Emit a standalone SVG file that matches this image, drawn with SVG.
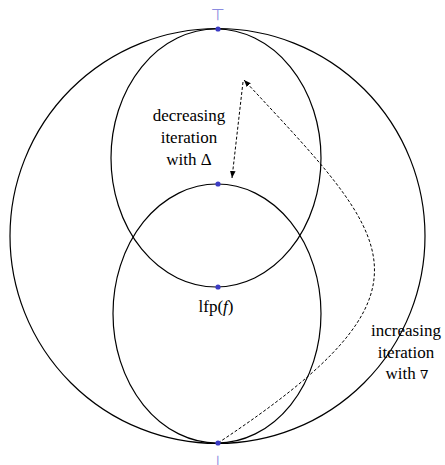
<svg xmlns="http://www.w3.org/2000/svg" width="445" height="465" viewBox="0 0 445 465">
<style>
.shape{fill:none;stroke:#000;stroke-width:1.2}
.dash{fill:none;stroke:#000;stroke-width:1;stroke-dasharray:3 2}
.dot{fill:#3b3bc4}
.lbl{font-family:"Liberation Serif","DejaVu Serif",serif;font-size:17px;fill:#000;text-anchor:middle}
.sym{font-family:"DejaVu Sans",sans-serif;font-size:16px;fill:#8a8ae0;text-anchor:middle}
</style>
<defs>
<marker id="ah" viewBox="0 0 10 10" refX="10" refY="5" markerWidth="7" markerHeight="7" orient="auto" markerUnits="userSpaceOnUse">
<path d="M0,1 L10,5 L0,9 z" fill="#000"/>
</marker>
</defs>
<g id="big"><circle class="shape" cx="217.5" cy="236" r="207.5"/></g>
<g id="upper"><ellipse class="shape" cx="216" cy="158" rx="105" ry="129"/></g>
<g id="lower"><ellipse class="shape" cx="217" cy="313.5" rx="104" ry="129.5"/></g>
<g id="connectors">
<path class="dash" d="M218,443 C450,289 394,241 244,80" marker-end="url(#ah)"/>
<line class="dash" x1="243" y1="82" x2="232" y2="178" marker-end="url(#ah)"/>
</g>
<g id="top"><circle class="dot" cx="218" cy="29" r="2.6"/><text class="sym" x="218" y="20">⊤</text></g>
<g id="mid"><circle class="dot" cx="218" cy="184" r="2.6"/></g>
<g id="lfp"><circle class="dot" cx="218" cy="287" r="2.6"/><text class="lbl" x="216" y="312">lfp(<tspan font-style="italic">f</tspan>)</text></g>
<g id="bottom"><circle class="dot" cx="218" cy="443" r="2.6"/><text class="sym" x="218" y="467">⊥</text></g>
<g id="dec">
<text class="lbl" x="189" y="121">decreasing</text>
<text class="lbl" x="189" y="143">iteration</text>
<text class="lbl" x="189" y="165">with Δ</text>
</g>
<g id="inc">
<text class="lbl" x="406" y="336">increasing</text>
<text class="lbl" x="406" y="358">iteration</text>
<text class="lbl" x="407" y="379">with <tspan font-size="12">∇</tspan></text>
</g>
</svg>
